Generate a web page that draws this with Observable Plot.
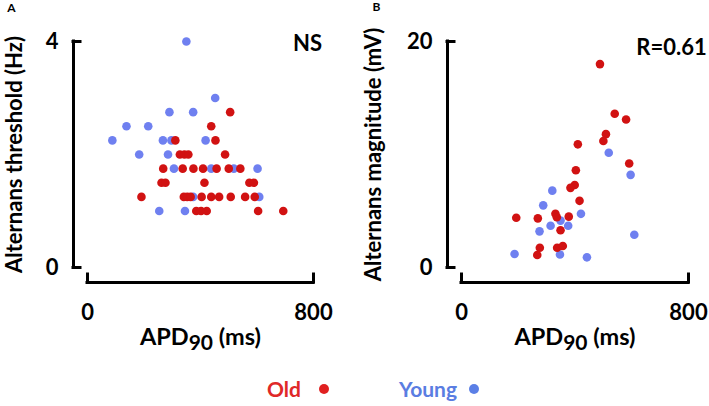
<!DOCTYPE html>
<html>
<head>
<meta charset="utf-8">
<script src="https://cdn.jsdelivr.net/npm/d3@7"></script>
<script src="https://cdn.jsdelivr.net/npm/@observablehq/plot@0.6"></script>
<style>
  html, body { margin: 0; padding: 0; background: #fff; }
  #wrap { position: relative; width: 709px; height: 406px; overflow: hidden; font-family: Lato, "Open Sans", sans-serif; }
  .panel { position: absolute; top: 0; }
  #legend { position: absolute; left: 267px; top: 377px; display: flex; align-items: center; font-size: 21px; font-weight: 700; line-height: 24px; }
  .sw { display: inline-block; width: 10px; height: 10px; border-radius: 50%; }
</style>
</head>
<body>
<div id="wrap"></div>
<script>
// ---- data ----
const groups = ["Old", "Young"];
const xTicks = [0, 800];
const xTitle = "APD90 (ms)";

// Panel A: alternans threshold (Hz)
const aYTicks = [0, 4];
const aOldX = [505,438,311,453,327,343,357,487,268,337,375,409,457,500,541,262,276,414,573,589,191,341,353,365,404,438,466,507,558,592,385,402,422,604,693];
const aOldY = [2.75,2.5,2.25,2.25,2,2,2,2,1.75,1.75,1.75,1.75,1.75,1.75,1.75,1.5,1.5,1.5,1.5,1.5,1.25,1.25,1.25,1.25,1.25,1.25,1.25,1.25,1.25,1.25,1,1,1,1,1];
const aYoungX = [350,452,290,374,138,215,88,267,297,418,183,285,306,438,518,602,374,608,254,345];
const aYoungY = [4,3,2.75,2.75,2.5,2.5,2.25,2.25,2.25,2.25,2,2,1.75,1.75,1.75,1.75,1.25,1.25,1,1];

// Panel B: alternans magnitude (mV)
const bYTicks = [0, 20];
const bOldX = [488,540,580,509,500,410,591,403,399,384,416,193,269,331,336,378,349,276,267,337,357];
const bOldY = [18.0,13.6,13.1,11.8,11.2,10.9,9.2,8.6,7.3,7.05,5.9,4.4,4.35,4.75,4.45,4.5,3.3,1.75,1.1,1.75,1.9];
const bYoungX = [519,596,320,288,421,314,275,376,349,609,187,347,442];
const bYoungY = [10.15,8.2,6.8,5.5,4.75,3.7,3.2,3.7,4.15,2.9,1.2,1.15,0.9];

// ---- styles ----
const colors = ["#d11212", "#6f80f0"];
const legendText = ["#e02828", "#5a7de2"];
const legendDot = ["#e02020", "#5b7fe6"];
const H = 350, MT = 41, MB = 83;

function makePanel(o) {
  const innerW = o.width - o.marginLeft - o.marginRight;
  const innerH = H - MT - MB;
  const old = o.oldX.map((x, i) => ({x, y: o.oldY[i]}));
  const young = o.youngX.map((x, i) => ({x, y: o.youngY[i]}));
  const line = {stroke: "#000", strokeWidth: 3, strokeLinecap: "square"};
  const bold = {fontWeight: 700, fill: "#000", lineAnchor: "middle"};
  const svg = Plot.plot({
    width: o.width, height: H,
    marginLeft: o.marginLeft, marginRight: o.marginRight, marginTop: MT, marginBottom: MB,
    x: {domain: [0, 800], axis: null},
    y: {domain: [0, o.yTicks[1]], axis: null},
    style: {fontFamily: "Lato, 'Open Sans', sans-serif", background: "transparent", overflow: "visible"},
    marks: [
      Plot.ruleX([0], {dx: -14, ...line}),
      Plot.tickY(o.yTicks, {dx: -14, insetRight: innerW - 7, ...line}),
      Plot.ruleY([0], {dy: 15, ...line}),
      Plot.tickX(xTicks, {dy: 15, insetTop: innerH - 8, ...line}),
      Plot.text(o.yTicks, {y: d => d, frameAnchor: "left", dx: -29, textAnchor: "end", text: d => String(d), fontSize: 22, ...bold}),
      Plot.text(xTicks, {x: d => d, frameAnchor: "bottom", dy: 45, textAnchor: "middle", text: d => String(d), fontSize: 22, ...bold}),
      Plot.text([o.yTitle], {text: d => d, frameAnchor: "left", textAnchor: "middle", dx: o.titleDx, rotate: -90, fontSize: 22, ...bold}),
      Plot.text([xTitle], {text: d => d, frameAnchor: "bottom", textAnchor: "middle", dy: 70, fontSize: 23.5, ...bold}),
      Plot.text([o.stat], {text: d => d, frameAnchor: "top-right", textAnchor: "middle", dx: o.statDx, dy: o.statDy, fontSize: 22, ...bold}),
      Plot.text([o.letter], {text: d => d, frameAnchor: "top-left", textAnchor: "middle", dx: o.letterDx, dy: o.letterDy, fontSize: 12, ...bold}),
      Plot.dot(young, {x: "x", y: "y", r: 4.3, fill: colors[1]}),
      Plot.dot(old, {x: "x", y: "y", r: 4.3, fill: colors[0]})
    ]
  });
  // subscript for APD90
  svg.querySelectorAll("text").forEach(t => {
    if (t.textContent === xTitle) {
      t.innerHTML = 'APD<tspan dy="5" font-size="21">90</tspan><tspan dy="-5"> (ms)</tspan>';
    }
  });
  svg.classList.add("panel");
  svg.style.left = o.left + "px";
  return svg;
}

const wrap = document.getElementById("wrap");
wrap.appendChild(makePanel({
  left: 0, width: 355, marginLeft: 87, marginRight: 42,
  oldX: aOldX, oldY: aOldY, youngX: aYoungX, youngY: aYoungY, yTicks: aYTicks,
  yTitle: "Alternans threshold (Hz)", titleDx: -73,
  stat: "NS", statDx: -6, statDy: 2,
  letter: "A", letterDx: -76, letterDy: -33
}));
wrap.appendChild(makePanel({
  left: 355, width: 354, marginLeft: 106, marginRight: 21,
  oldX: bOldX, oldY: bOldY, youngX: bYoungX, youngY: bYoungY, yTicks: bYTicks,
  yTitle: "Alternans magnitude (mV)", titleDx: -88,
  stat: "R=0.61", statDx: -17, statDy: 6,
  letter: "B", letterDx: -85, letterDy: -34
}));

// legend
const legend = document.createElement("div");
legend.id = "legend";
const gaps = [[18, 70], [12, 0]];
groups.forEach((g, i) => {
  const s = document.createElement("span");
  s.textContent = g;
  s.style.color = legendText[i];
  s.style.marginRight = gaps[i][0] + "px";
  const d = document.createElement("span");
  d.className = "sw";
  d.style.background = legendDot[i];
  d.style.marginRight = gaps[i][1] + "px";
  legend.appendChild(s);
  legend.appendChild(d);
});
wrap.appendChild(legend);
</script>
</body>
</html>
